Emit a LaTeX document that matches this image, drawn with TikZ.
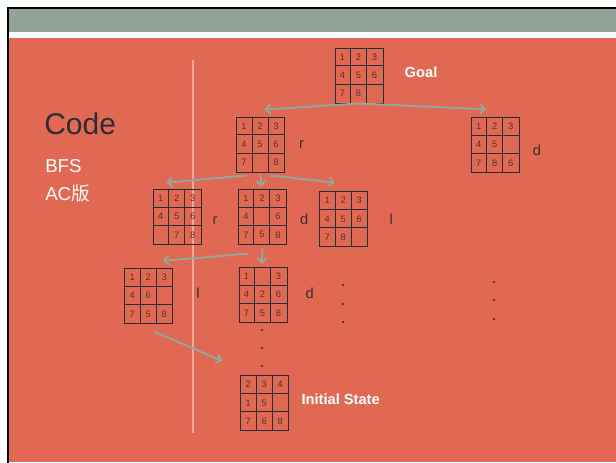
\documentclass[tikz,border=0pt]{standalone}
\usepackage{fontspec}
\setmainfont{Liberation Sans}
\newfontfamily\cjk{Noto Sans CJK SC}
\usetikzlibrary{calc,arrows.meta}

\definecolor{slide}{HTML}{E16852}
\definecolor{band}{HTML}{93A296}
\definecolor{arrowgray}{HTML}{96A499}
\definecolor{divider}{HTML}{F2A896}
\definecolor{gridline}{HTML}{23303C}
\definecolor{digitc}{HTML}{4A3838}
\definecolor{titlec}{HTML}{2B2E36}

\tikzset{
  board/.style={draw=gridline, line width=0.7pt, minimum width=36pt, minimum height=41.25pt, inner sep=0pt},
  digit/.style={text=digitc, font=\fontsize{7}{8}\selectfont, inner sep=0pt},
  movelbl/.style={text=digitc!85!black, font=\fontsize{11}{13}\selectfont, inner sep=0pt, anchor=base west},
  statelbl/.style={text=white, font=\bfseries\fontsize{11}{13}\selectfont, inner sep=0pt, anchor=base west},
  move/.style={draw=arrowgray, line width=1.5pt, -{Straight Barb[length=3.5pt,width=7pt]}},
}

% one 3x3 board: name, centre, nine tiles (0 = blank)
\newcommand{\board}[3]{%
  \node[board] (#1) at (#2) {};
  \foreach \k in {1,2} {
    \draw[gridline, line width=0.7pt] ($(#1.north west)+(\k*16,0)$) -- ($(#1.south west)+(\k*16,0)$);
    \draw[gridline, line width=0.7pt] ($(#1.north west)+(0,\k*18.33)$) -- ($(#1.north east)+(0,\k*18.33)$);
  }
  \foreach \v [count=\i from 0] in {#3} {
    \pgfmathtruncatemacro\rw{div(\i,3)}
    \pgfmathtruncatemacro\cl{mod(\i,3)}
    \node[digit] at ($(#1.north west)+(\cl*16+8,\rw*18.33+9.5)$) {\ifnum\v>0 \v\fi};
  }
}

\begin{document}
\begin{tikzpicture}[x=0.75pt, y=-0.75pt]
  \useasboundingbox (0,0) rectangle (616,462);
  % slide background
  \fill[white] (0,0) rectangle (616,462);
  \fill[slide] (9,9) rectangle (616,462);
  \fill[band] (9,9) rectangle (616,31.7);
  \fill[white] (9,31.7) rectangle (616,37.7);
  \draw[black, line width=1.9pt] (7.8,470) -- (7.8,7.8) -- (625,7.8);
  \draw[divider, line width=1.1pt] (193,60) -- (193,433);

  % left titles
  \node[text=titlec, font=\fontsize{22.5}{26}\selectfont, inner sep=0pt, anchor=base west] (code) at (44,134.3) {Code};
  \node[text=white, font=\fontsize{14}{16}\selectfont, inner sep=0pt, anchor=base west] (bfs) at (45,172.7) {BFS};
  \node[text=white, font=\fontsize{14}{16}\selectfont, inner sep=0pt, anchor=base west] (ac) at (45,200) {AC{\cjk 版}};

  % search tree
  \board{goal}{359,75.5}{1,2,3,4,5,6,7,8,0}
  \board{mvR}{260.5,144.5}{1,2,3,4,5,6,7,0,8}
  \board{mvD}{495.2,144.8}{1,2,3,4,5,0,7,8,6}
  \board{mvRR}{177.3,216.6}{1,2,3,4,5,6,0,7,8}
  \board{mvRD}{262.4,216.6}{1,2,3,4,0,6,7,5,8}
  \board{mvRL}{343.8,219}{1,2,3,4,5,6,7,8,0}
  \board{mvRDL}{148.7,295.8}{1,2,3,4,6,0,7,5,8}
  \board{mvRDD}{263,294.8}{1,0,3,4,2,6,7,5,8}
  \board{init}{264.8,403}{2,3,4,1,5,0,7,6,8}

  \node[statelbl] (goallbl) at ($(goal.east)+(21,2.2)$) {Goal};
  \node[statelbl] (initlbl) at ($(init.east)+(12,1)$) {Initial State};

  \node[movelbl] (lR) at ($(mvR.east)+(14,3.8)$) {r};
  \node[movelbl] (lD) at ($(mvD.east)+(13,11)$) {d};
  \node[movelbl] (lRR) at ($(mvRR.east)+(10.5,7.7)$) {r};
  \node[movelbl] (lRD) at ($(mvRD.east)+(13,7.7)$) {d};
  \node[movelbl] (lRL) at ($(mvRL.east)+(21,5)$) {l};
  \node[movelbl] (lRDL) at ($(mvRDL.east)+(23,2.5)$) {l};
  \node[movelbl] (lRDD) at ($(mvRDD.east)+(18,4)$) {d};

  % moves
  \draw[move] (goal.south) -- ($(mvR.north)+(4,-7)$);
  \draw[move] (goal.south) -- ($(mvD.north)+(-9,-7.5)$);
  \draw[move] ($(mvR.south)+(-14,3)$) -- ($(mvRR.north)+(-11,-6)$);
  \draw[move] ($(mvR.south)+(0,2)$) -- ($(mvRD.north)+(-1,-2)$);
  \draw[move] ($(mvR.south)+(10,3)$) -- ($(mvRL.north)+(-9,-8.5)$);
  \draw[move] ($(mvRD.south)+(-14,9)$) -- ($(mvRDL.north)+(14,-7)$);
  \draw[move] ($(mvRD.south)+(0,4)$) -- ($(mvRDD.north)+(-1,-3)$);
  \draw[move] ($(mvRDL.south)+(6,8)$) -- ($(init.north west)+(-18,-14)$);

  % more levels
  \foreach \px/\py in {262/330, 262/348, 262/366, 343/285, 343/304, 343/322, 494/282, 494/300, 494/319}
    \fill[gridline] (\px,\py) circle[radius=0.8pt];
\end{tikzpicture}
\end{document}
